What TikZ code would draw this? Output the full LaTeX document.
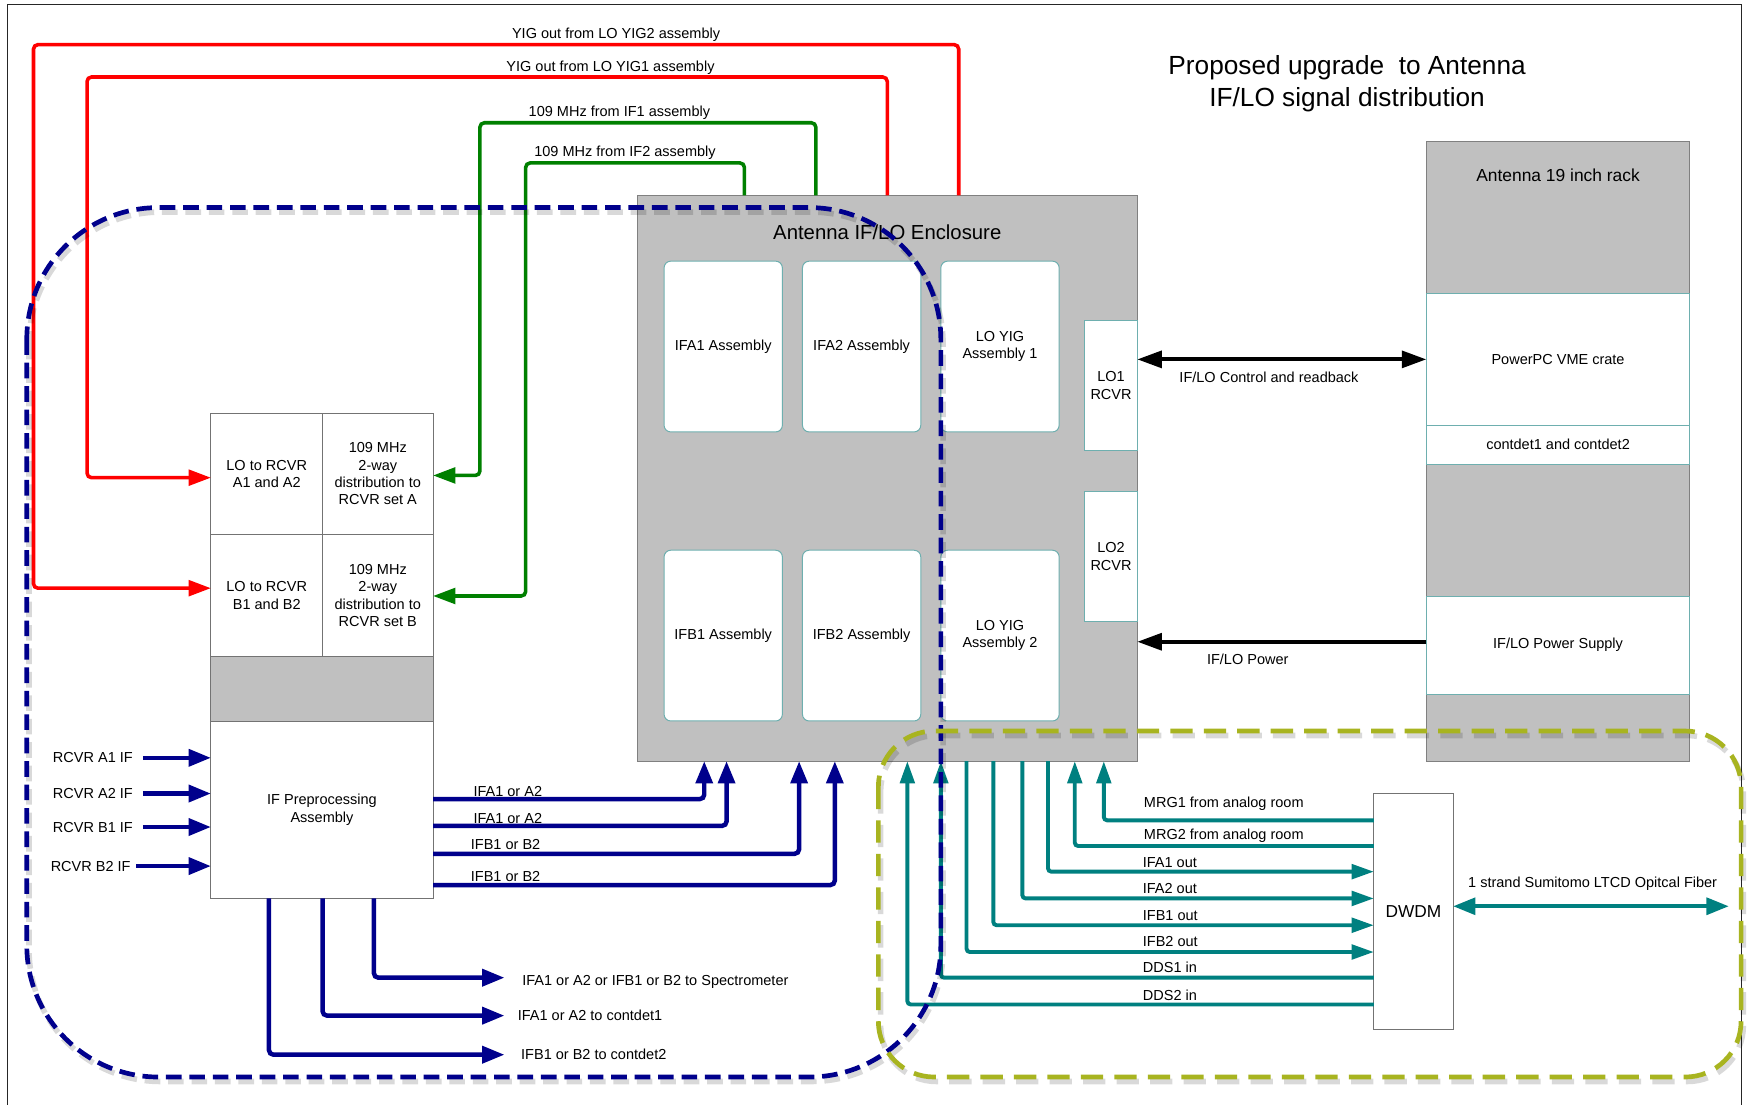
\documentclass[tikz,border=0pt]{standalone}
\usepackage{fontspec}
\setmainfont{Liberation Sans}
\usetikzlibrary{arrows.meta,calc}
\definecolor{rd}{RGB}{255,0,0}
\definecolor{gn}{RGB}{0,128,0}
\definecolor{nv}{RGB}{0,0,140}
\definecolor{tl}{RGB}{0,128,128}
\definecolor{gy}{RGB}{192,192,192}
\definecolor{ol}{RGB}{168,180,32}
\definecolor{bt}{RGB}{110,175,175}
\newcommand\fsn{\fontsize{13}{15.5}\selectfont}
\begin{document}
\begin{tikzpicture}[x=1pt,y=-1pt,
  every node/.style={inner sep=0pt, outer sep=0pt},
  box/.style={draw=black!55, line width=0.8pt, fill=white, anchor=north west, align=center, font=\fsn},
  asm/.style={draw=bt, line width=0.9pt, fill=white, rounded corners=6pt, anchor=north west, align=center, font=\fsn, minimum width=106pt, minimum height=153pt},
  rcv/.style={draw=bt, line width=0.8pt, fill=white, anchor=north west, align=center, font=\fsn, minimum width=47pt, minimum height=117pt},
  rk/.style={draw=bt, line width=0.8pt, fill=white, anchor=north west, align=center, font=\fsn, minimum width=236pt},
  lbl/.style={font=\fsn},
  redl/.style={draw=rd, line width=3.2pt, rounded corners=4pt, -{Triangle[length=20pt,width=14pt]}},
  grnl/.style={draw=gn, line width=3.2pt, rounded corners=4pt, -{Triangle[length=20pt,width=14pt]}},
  nvl/.style={draw=nv, line width=4pt, rounded corners=4pt, -{Triangle[length=20pt,width=15pt]}},
  tll/.style={draw=tl, line width=3.5pt, rounded corners=3pt, -{Triangle[length=20pt,width=13pt]}},
  tlp/.style={draw=tl, line width=3.5pt, rounded corners=3pt},
  blk/.style={draw=black, line width=3.5pt, -{Triangle[length=22pt,width=15pt]}},
  dashshadow/.style={draw=black, opacity=0.15, line width=5pt}
]
\useasboundingbox (0,0) rectangle (1568,990);
\fill[white] (0,0) rectangle (1568,990);
% frame
\draw[line width=1pt, black!85] (7,990) -- (7,4) -- (1560,4) -- (1560,990);

% title
\node[font=\fontsize{23.5}{28}\selectfont, align=center] (title) at (1207,75) {Proposed upgrade~ to Antenna\\IF/LO signal distribution};

% enclosure
\node[draw=black!50, line width=0.9pt, fill=gy, anchor=north west, minimum width=448pt, minimum height=507pt] (enc) at (571,175) {};
\node[font=\fontsize{18.2}{20}\selectfont] (enct) at (795,208) {Antenna IF/LO Enclosure};
\node[asm] (ifa1) at (595,234) {IFA1 Assembly};
\node[asm] (ifa2) at (719,234) {IFA2 Assembly};
\node[asm] (loy1) at (843,234) {LO YIG\\Assembly 1};
\node[asm] (ifb1) at (595,493) {IFB1 Assembly};
\node[asm] (ifb2) at (719,493) {IFB2 Assembly};
\node[asm] (loy2) at (843,493) {LO YIG\\Assembly 2};
\node[rcv] (lo1) at (972,287) {LO1\\RCVR};
\node[rcv] (lo2) at (972,440) {LO2\\RCVR};

% left stack
\node[box, minimum width=100pt, minimum height=109pt] (loA) at (189,370) {LO to RCVR\\A1 and A2};
\node[box, minimum width=99pt, minimum height=109pt] (dA) at (289,370) {109 MHz\\2-way\\distribution to\\RCVR set A};
\node[box, minimum width=100pt, minimum height=109pt] (loB) at (189,479) {LO to RCVR\\B1 and B2};
\node[box, minimum width=99pt, minimum height=109pt] (dB) at (289,479) {109 MHz\\2-way\\distribution to\\RCVR set B};
\node[box, fill=gy, minimum width=199pt, minimum height=58pt] (band) at (189,588) {};
\node[box, minimum width=199pt, minimum height=159pt] (ifp) at (189,646) {IF Preprocessing\\Assembly};

% rack
\node[draw=black!50, line width=0.9pt, fill=gy, anchor=north west, minimum width=236pt, minimum height=555pt] (rack) at (1278,127) {};
\node[font=\fontsize{15.6}{18}\selectfont] (rackt) at (1396,157) {Antenna 19 inch rack};
\node[rk, minimum height=118pt] (ppc) at (1278,263) {PowerPC VME crate};
\node[rk, minimum height=35pt] (cd) at (1278,381) {contdet1 and contdet2};
\node[rk, minimum height=88pt] (ps) at (1278,534) {IF/LO Power Supply};

% DWDM
\node[box, minimum width=71pt, minimum height=211pt, font=\fontsize{15.5}{18}\selectfont] (dwdm) at (1231,711) {DWDM};

% red connectors
\draw[redl] ($(enc.north west)+(288,0)$) -- (859,40) -- (30,40) -- (30,527) -- ($(loB.west)+(0,-6.5)$);
\draw[redl] ($(enc.north west)+(224,0)$) -- (795,69) -- (78,69) -- (78,428) -- ($(loA.west)+(0,3.5)$);
\node[lbl] (yig2l) at (552,31) {YIG out from LO YIG2 assembly};
\node[lbl] (yig1l) at (547,61) {YIG out from LO YIG1 assembly};
% green connectors
\draw[grnl] ($(enc.north west)+(160,0)$) -- (731,110) -- (430,110) -- (430,426) -- ($(dA.east)+(0,1.5)$);
\draw[grnl] ($(enc.north west)+(96,0)$) -- (667,146) -- (471,146) -- (471,534) -- ($(dB.east)+(0,0.5)$);
\node[lbl] (if1l) at (555,101) {109 MHz from IF1 assembly};
\node[lbl] (if2l) at (560,137) {109 MHz from IF2 assembly};

% RCVR inputs
\node[lbl, anchor=east] (ra1) at (119,679) {RCVR A1 IF};
\node[lbl, anchor=east] (ra2) at (119,711) {RCVR A2 IF};
\node[lbl, anchor=east] (rb1) at (119,741) {RCVR B1 IF};
\node[lbl, anchor=east] (rb2) at (117,776) {RCVR B2 IF};
\draw[nvl] ($(ra1.east)+(9,0)$) -- ($(ifp.west)+(0,-46.5)$);
\draw[nvl] ($(ra2.east)+(9,0)$) -- ($(ifp.west)+(0,-14.5)$);
\draw[nvl] ($(rb1.east)+(9,0)$) -- ($(ifp.west)+(0,15.5)$);
\draw[nvl] ($(rb2.east)+(5,0)$) -- ($(ifp.west)+(0,50.5)$);

% IF outputs to enclosure
\draw[nvl] ($(ifp.east)+(0,-9.5)$) -- (631,716) -- ($(enc.south west)+(60,0)$);
\draw[nvl] ($(ifp.east)+(0,14.5)$) -- (651,740) -- ($(enc.south west)+(80,0)$);
\draw[nvl] ($(ifp.east)+(0,39.5)$) -- (716,765) -- ($(enc.south west)+(145,0)$);
\draw[nvl] ($(ifp.east)+(0,67.5)$) -- (748,793) -- ($(enc.south west)+(177,0)$);
\node[lbl] (o1) at (455,709) {IFA1 or A2};
\node[lbl] (o2) at (455,733) {IFA1 or A2};
\node[lbl] (o3) at (453,757) {IFB1 or B2};
\node[lbl] (o4) at (453,785) {IFB1 or B2};

% bottom outputs
\node[lbl, anchor=west] (spec) at (468,880) {IFA1 or A2 or IFB1 or B2 to Spectrometer};
\node[lbl, anchor=west] (cd1) at (464,910) {IFA1 or A2 to contdet1};
\node[lbl, anchor=west] (cd2) at (467,945) {IFB1 or B2 to contdet2};
\draw[nvl] ($(ifp.south)+(46.5,0)$) -- (335,876) -- ($(spec.west)+(-16,-4)$);
\draw[nvl] ($(ifp.south)+(0.5,0)$) -- (289,910) -- ($(cd1.west)+(-12,0)$);
\draw[nvl] ($(ifp.south)+(-47.5,0)$) -- (241,945) -- ($(cd2.west)+(-15,0)$);

% teal connectors
\draw[tll] ($(dwdm.north west)+(0,24)$) -- (989,735) -- ($(enc.south west)+(418,0)$);
\draw[tll] ($(dwdm.north west)+(0,47)$) -- (963,758) -- ($(enc.south west)+(392,0)$);
\draw[tll] ($(enc.south west)+(368,0)$) -- (939,781) -- ($(dwdm.north west)+(0,70)$);
\draw[tll] ($(enc.south west)+(345,0)$) -- (916,805) -- ($(dwdm.north west)+(0,94)$);
\draw[tll] ($(enc.south west)+(319,0)$) -- (890,829) -- ($(dwdm.north west)+(0,118)$);
\draw[tll] ($(enc.south west)+(295,0)$) -- (866,853) -- ($(dwdm.north west)+(0,142)$);
\draw[tll] ($(dwdm.north west)+(0,165)$) -- (843,876) -- ($(enc.south west)+(272,0)$);
\draw[tll] ($(dwdm.north west)+(0,189)$) -- (813,900) -- ($(enc.south west)+(242,0)$);
\node[lbl, anchor=west] (m1) at (1025,720) {MRG1 from analog room};
\node[lbl, anchor=west] (m2) at (1025,749) {MRG2 from analog room};
\node[lbl, anchor=west] (a1o) at (1024,773) {IFA1 out};
\node[lbl, anchor=west] (a2o) at (1024,796) {IFA2 out};
\node[lbl, anchor=west] (b1o) at (1024,820) {IFB1 out};
\node[lbl, anchor=west] (b2o) at (1024,844) {IFB2 out};
\node[lbl, anchor=west] (d1) at (1024,867) {DDS1 in};
\node[lbl, anchor=west] (d2) at (1024,892) {DDS2 in};

% fiber
\coordinate (fib) at (1549,812);
\draw[tll, {Triangle[length=20pt,width=15pt]}-{Triangle[length=20pt,width=15pt]}] ($(dwdm.east)+(0,-4.5)$) -- (fib);
\node[lbl] (fibl) at (1427,792) {1 strand Sumitomo LTCD Opitcal Fiber};

% black connectors
\draw[blk, {Triangle[length=22pt,width=15pt]}-{Triangle[length=22pt,width=15pt]}] (ppc.west) -- (ppc.west -| enc.east);
\draw[blk] ($(ps.west)+(0,-3)$) -- ($(ps.west -| enc.east)+(0,-3)$);
\node[lbl] (ctl) at (1137,338) {IF/LO Control and readback};
\node[lbl] (pwl) at (1118,591) {IF/LO Power};

% dashed regions with shadows
\draw[dashshadow, dash pattern=on 14pt off 7pt, rounded corners=118pt, transform canvas={xshift=2pt,yshift=-4pt}] (24,186) rectangle (843,965);
\draw[dashshadow, dash pattern=on 20pt off 10pt, rounded corners=50pt, transform canvas={xshift=2pt,yshift=-4pt}] (787,655) rectangle (1560,965);
\draw[draw=nv, line width=4.2pt, dash pattern=on 14pt off 7pt, rounded corners=118pt] (24,186) rectangle (843,965);
\draw[draw=ol, line width=4.2pt, dash pattern=on 20pt off 10pt, rounded corners=50pt] (787,655) rectangle (1560,965);
\end{tikzpicture}
\end{document}
